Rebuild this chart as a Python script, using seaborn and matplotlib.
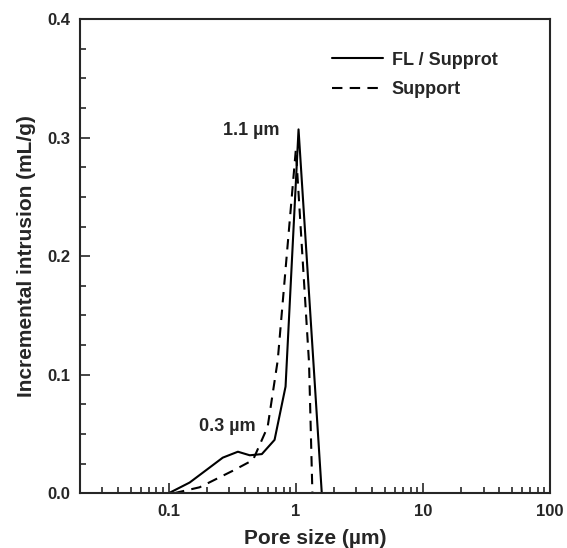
import numpy as np
import pandas as pd
import matplotlib
matplotlib.use("Agg")
import matplotlib.pyplot as plt
import seaborn as sns
from matplotlib.ticker import LogLocator, FixedLocator, FuncFormatter

# data
fl_size = [0.1, 0.146, 0.2, 0.266, 0.35, 0.434, 0.54, 0.68, 0.83, 1.05, 1.6, 1.8]
fl_intrusion = [0.0, 0.009, 0.02, 0.030, 0.035, 0.032, 0.033, 0.045, 0.09, 0.307, 0.0, 0.0]

sup_size = [0.11, 0.175, 0.32, 0.46, 0.6, 0.72, 1.0, 1.27, 1.35]
sup_intrusion = [0.0, 0.005, 0.019, 0.028, 0.056, 0.112, 0.29, 0.11, 0.0]

df = pd.concat([
    pd.DataFrame({'size': fl_size, 'intrusion': fl_intrusion, 'series': 'FL / Supprot'}),
    pd.DataFrame({'size': sup_size, 'intrusion': sup_intrusion, 'series': 'Support'}),
])

sns.set_style('ticks')
plt.rcParams['font.family'] = ['Liberation Sans', 'DejaVu Sans']
plt.rcParams['font.weight'] = 'bold'

fig = plt.figure(figsize=(5.67, 5.48), dpi=100)
ax = fig.add_axes([0.141, 0.100, 0.829, 0.865])

sns.lineplot(data=df, x='size', y='intrusion', style='series', sort=False,
             dashes={'FL / Supprot': '', 'Support': (5, 3.5)},
             color='black', linewidth=1.5, ax=ax, estimator=None)

ax.set_xscale('log')
ax.set_xlim(0.02, 100)
ax.set_ylim(0, 0.4)

ax.xaxis.set_major_locator(FixedLocator([0.1, 1, 10, 100]))
ax.xaxis.set_major_formatter(FuncFormatter(lambda v, p: f'{v:g}'))
ax.xaxis.set_minor_locator(LogLocator(base=10, subs=np.arange(2, 10), numticks=20))
ax.yaxis.set_major_locator(FixedLocator([0.0, 0.1, 0.2, 0.3, 0.4]))
ax.yaxis.set_major_formatter(FuncFormatter(lambda v, p: f'{v:.1f}'))
ax.yaxis.set_minor_locator(FixedLocator(np.arange(0, 0.401, 0.025)))

ax.tick_params(which='both', direction='in', width=1.2, labelsize=12)
ax.tick_params(which='major', length=7)
ax.tick_params(which='minor', length=4)
ax.tick_params(axis='x', which='major', pad=8)
ax.tick_params(axis='y', which='major', pad=7)
for s in ax.spines.values():
    s.set_linewidth(1.5)
    s.set_visible(True)

ax.set_xlabel('Pore size (µm)', fontsize=15, fontweight='bold', labelpad=7)
ax.set_ylabel('Incremental intrusion (mL/g)', fontsize=15, fontweight='bold', labelpad=8)

ax.text(0.75, 0.306, '1.1 µm', fontsize=13, fontweight='bold', ha='right', va='center')
ax.text(0.29, 0.056, '0.3 µm', fontsize=13, fontweight='bold', ha='center', va='center')

leg = ax.legend(loc='upper left', bbox_to_anchor=(0.521, 0.947), frameon=False,
                handlelength=2.8, handletextpad=0.5, fontsize=13,
                labelspacing=0.7, borderaxespad=0, title=None)
for t in leg.get_texts():
    t.set_fontweight('bold')

fig.savefig('out.png', dpi=100)
